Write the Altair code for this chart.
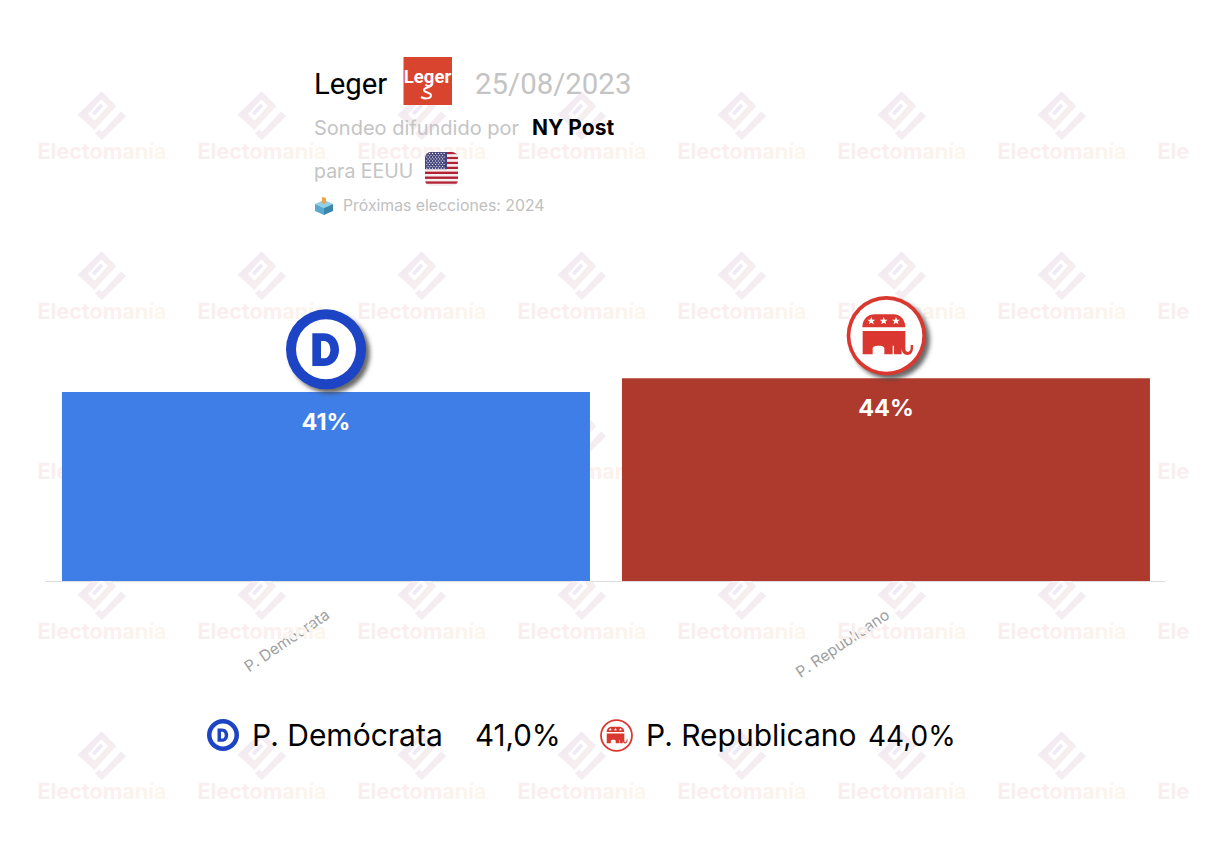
import base64
import altair as alt
import pandas as pd

parties = ["P. Demócrata", "P. Republicano"]
values = [41, 44]
bar_labels = ["41%", "44%"]
legend_values = ["41,0%", "44,0%"]
bar_colors = ["#3e7ee6", "#ae3a2d"]

FONT = "Roboto"
WIDE = "Inter"
W, H = 1182, 830
one = pd.DataFrame({"a": [0]})


def uri(svg):
    return "data:image/svg+xml;base64," + base64.b64encode(svg.encode()).decode()


def txt(s, x, y, size, color, weight="normal", align="left", font=FONT, **kw):
    return alt.Chart(one).mark_text(
        text=s, font=font, fontSize=size, color=color, fontWeight=weight,
        align=align, baseline="alphabetic", clip=True, **kw
    ).encode(x=alt.value(x - 8), y=alt.value(y - 8))


def img(svg, x, y, w, h):
    return alt.Chart(one).mark_image(
        url=uri(svg), width=w, height=h, aspect=False, align="left", baseline="top"
    ).encode(x=alt.value(x - 8), y=alt.value(y - 8))


WM = """<svg xmlns="http://www.w3.org/2000/svg" width="190" height="170" viewBox="90 20 190 170">
<defs><linearGradient id="g" x1="0" y1="0" x2="1" y2="1"><stop offset="0" stop-color="#efe8f7"/><stop offset="1" stop-color="#f9f1ea"/></linearGradient></defs>
<path fill="url(#g)" d="M185 34 L229 78 L163 150 L113 104 Z"/>
<path fill="#fff" d="M184 58 L204 78 L164 122 L144 102 Z"/>
<path fill="#efe8f7" d="M182 70 L190 78 L164 106 L156 98 Z"/>
<path fill="url(#g)" d="M243 94 L259 108 L186 180 L165 160 L178 148 L186 156 Z"/>
</svg>"""

D_LOGO = """<svg xmlns="http://www.w3.org/2000/svg" width="360" height="330" viewBox="0 0 360 330">
<defs><filter id="s" x="-30%" y="-30%" width="160%" height="160%"><feGaussianBlur stdDeviation="7"/></filter></defs>
<circle cx="180" cy="190" r="120" fill="#444" fill-opacity="0.8" filter="url(#s)"/>
<circle cx="168" cy="178" r="120" fill="#1c44c4"/>
<circle cx="168" cy="178" r="90" fill="#fff"/>
<path fill="#1c44c4" fill-rule="evenodd" d="M127 130 H160 C190 130 207 152 207 179 C207 206 190 228 160 228 H127 Z M153 153 V205 H162 C174 205 181 193 181 179 C181 165 174 153 162 153 Z"/>
</svg>"""

STAR = "M0 -12 L3.2 -3.8 L12 -3.8 L5 1.6 L7.6 10 L0 5 L-7.6 10 L-5 1.6 L-12 -3.8 L-3.2 -3.8 Z"
ELE = f"""<path fill="#d9372f" d="M97 130 C97 100 115 88 135 88 H190 C212 88 226 105 226 127 H97 Z"/>
<path fill="#d9372f" d="M98 138 H226 V190 C226 200 232 203 238 199 C243 196 242 188 242 180 H249 C251 195 246 210 232 210 C222 210 216 204 215 190 V208 H192 V182 H188 V208 H163 V190 C163 180 128 180 128 190 V208 H98 Z"/>
<g fill="#fff"><path transform="translate(124,108)" d="{STAR}"/><path transform="translate(161,108)" d="{STAR}"/><path transform="translate(198,108)" d="{STAR}"/></g>"""
R_LOGO = f"""<svg xmlns="http://www.w3.org/2000/svg" width="360" height="330" viewBox="0 0 360 330">
<defs><filter id="s" x="-30%" y="-30%" width="160%" height="160%"><feGaussianBlur stdDeviation="7"/></filter></defs>
<circle cx="181" cy="164" r="119" fill="#444" fill-opacity="0.8" filter="url(#s)"/>
<circle cx="169" cy="152" r="119" fill="#d9372f"/>
<circle cx="169" cy="152" r="108" fill="#fff"/>
{ELE}
</svg>"""

D_SMALL = """<svg xmlns="http://www.w3.org/2000/svg" width="360" height="360" viewBox="48 58 240 240">
<circle cx="168" cy="178" r="120" fill="#1c44c4"/>
<circle cx="168" cy="178" r="86" fill="#fff"/>
<path fill="#1c44c4" fill-rule="evenodd" d="M127 130 H160 C190 130 207 152 207 179 C207 206 190 228 160 228 H127 Z M153 153 V205 H162 C174 205 181 193 181 179 C181 165 174 153 162 153 Z"/>
</svg>"""

R_SMALL = f"""<svg xmlns="http://www.w3.org/2000/svg" width="360" height="360" viewBox="49 32 240 240">
<circle cx="169" cy="152" r="119" fill="#d9372f"/>
<circle cx="169" cy="152" r="106" fill="#fff"/>
{ELE}
</svg>"""

stripes = "".join(
    f'<rect y="{i * 2.45}" width="33" height="2.45" fill="{"#b22234" if i % 2 == 0 else "#f4eeee"}"/>'
    for i in range(14)
)
stars = "".join(
    f'<circle cx="{1.7 + c * 2.9 + (r % 2) * 1.4}" cy="{1.4 + r * 1.85}" r="0.6" fill="#fff"/>'
    for r in range(9) for c in range(7 - r % 2)
)
FLAG = f"""<svg xmlns="http://www.w3.org/2000/svg" width="33" height="34" viewBox="0 0 33 34">
<defs><clipPath id="c"><rect width="33" height="34" rx="6"/></clipPath></defs>
<g clip-path="url(#c)">{stripes}<rect width="22" height="17.2" fill="#46467e"/>{stars}</g></svg>"""

BOX = """<svg xmlns="http://www.w3.org/2000/svg" width="18" height="18" viewBox="0 0 18 18">
<path fill="#8fd0e8" d="M9 3 L18 7 L9 11 L0 7 Z"/>
<path fill="#5aa8cc" d="M0 7 L9 11 V18 L0 14 Z"/>
<path fill="#3b86ad" d="M18 7 L9 11 V18 L18 14 Z"/>
<path fill="#f0a045" d="M7 0 L11 1 V6 L9 7 L7 6 Z"/>
</svg>"""

SWIRL = """<svg xmlns="http://www.w3.org/2000/svg" width="49" height="48" viewBox="0 0 49 48">
<path fill="none" stroke="#fff" stroke-width="2" d="M29 27 C29 31 21 30 21 33 C21 36 29 35 28 39 C27 42 22 42 18 40"/>
</svg>"""

layers = []

# watermark
grad = alt.Gradient(
    gradient="linear", x1=0, x2=1, y1=0, y2=0,
    stops=[alt.GradientStop(color="#f9eeef", offset=0),
           alt.GradientStop(color="#fbf0ee", offset=0.6),
           alt.GradientStop(color="#fdf6ec", offset=1)],
)
for row in range(5):
    for col in range(8):
        if col < 7:
            layers.append(img(WM, 70 + 160 * col, 86.7 + 160 * row, 63.3, 56.7))
        layers.append(
            alt.Chart(one).mark_text(
                text="Electomanía", font="Inter", fontSize=21.5, fontWeight="bold",
                color=grad, align="center", baseline="alphabetic", clip=True,
            ).encode(x=alt.value(102 + 160 * col - 8), y=alt.value(159 + 160 * row - 8))
        )

df = pd.DataFrame({"party": parties, "value": values, "label": bar_labels, "color": bar_colors})
x = alt.X(
    "party:N", sort=parties, title=None,
    scale=alt.Scale(range=[37, 1157], paddingInner=32 / 560, paddingOuter=16 / 560, align=0.53),
    axis=alt.Axis(
        orient="bottom", offset=-(H - 573), ticks=False, grid=False,
        domainColor="#dddddd", domainWidth=1, labelAngle=-34, labelAlign="right",
        labelBaseline="top", labelFont=WIDE, labelFontSize=15.5, labelColor="#a0a0a0",
        labelPadding=26, labelOffset=-2, labelOverlap=False,
    ),
)
y = alt.Y("value:Q", axis=None, scale=alt.Scale(domain=[0, 100], range=[573, 112]))
base = alt.Chart(df).encode(x=x, y=y)
bars = base.mark_bar(size=528).encode(color=alt.Color("color:N", scale=None, legend=None))
labels = base.mark_text(
    font=WIDE, fontSize=23.5, fontWeight="bold", color="#ffffff", dy=31, baseline="middle"
).encode(text="label:N")
layers += [bars, labels]

# header
layers += [
    txt("Leger", 314, 94, 29.3, "#000000"),
    alt.Chart(one).mark_rect(color="#d9442f").encode(
        x=alt.value(403.5 - 8), x2=alt.value(452 - 8), y=alt.value(57 - 8), y2=alt.value(105 - 8)
    ),
    txt("Leger", 427.5, 83, 18.5, "#ffffff", weight="bold", align="center"),
    img(SWIRL, 403, 57, 49, 48),
    txt("25/08/2023", 475, 94, 29.4, "#c4c4c4"),
    txt("Sondeo difundido por", 314, 135, 20, "#c4c4c4", font=WIDE),
    txt("NY Post", 532, 135, 21, "#000000", weight="bold", font=WIDE),
    txt("para EEUU", 314, 178, 19.5, "#c4c4c4", font=WIDE),
    img(FLAG, 425, 152, 33, 34),
    img(BOX, 315, 197, 18, 18),
    txt("Próximas elecciones: 2024", 343, 211, 15.8, "#c0c0c0", font=WIDE),
    img(D_LOGO, 270, 290, 120, 110),
    img(R_LOGO, 830, 285, 120, 110),
    img(D_SMALL, 207, 719, 32, 32),
    img(R_SMALL, 600, 719, 33, 33),
    txt(parties[0], 252, 746, 30, "#000000", font=WIDE),
    txt(legend_values[0], 475, 746, 29.5, "#000000", font=WIDE),
    txt(parties[1], 646, 746, 30, "#000000", font=WIDE),
    txt(legend_values[1], 868, 746, 28, "#000000", font=WIDE),
]

chart = (
    alt.layer(*layers)
    .properties(width=W, height=H, padding=0, autosize=alt.AutoSizeParams(type="none"), background="#ffffff")
    .configure_view(stroke=None)
)
chart.save("out.html", embed_options={"renderer": "svg", "actions": False})
